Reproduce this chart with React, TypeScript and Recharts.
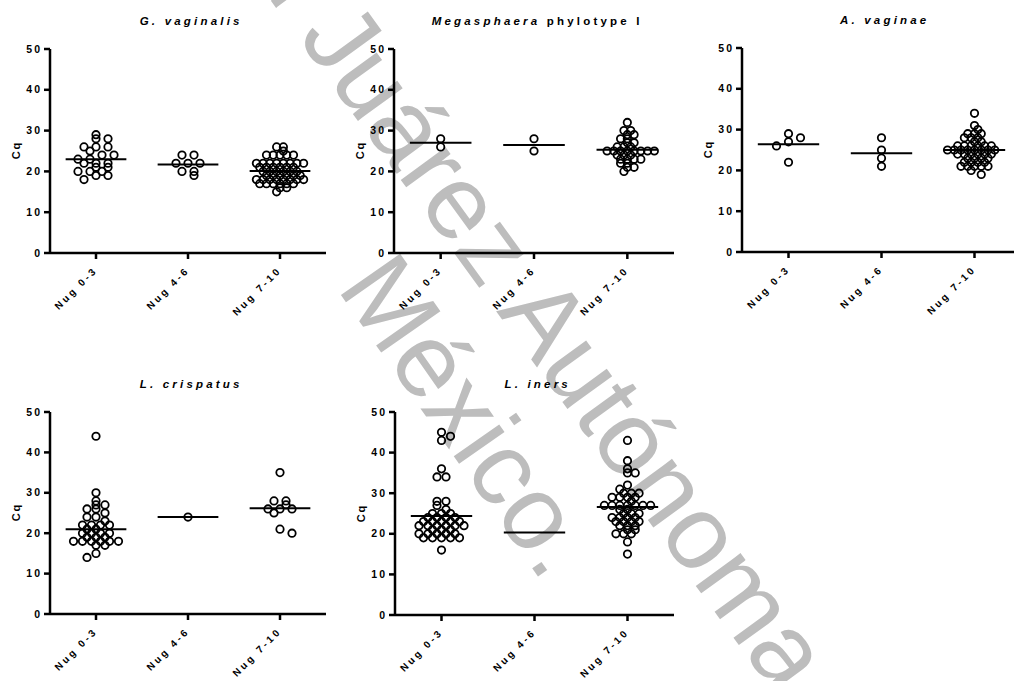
import React from "react";
import { ScatterChart, Scatter, XAxis, YAxis, ReferenceLine } from "recharts";

const FONT = '"Liberation Sans", Arial, Helvetica, sans-serif';

const CATEGORIES = ["Nug 0-3", "Nug 4-6", "Nug 7-10"];
const Y_TICKS = [0, 10, 20, 30, 40, 50];

// G. vaginalis
const GV_NUG_0_3 = [29, 28, 28, 26, 26, 26, 25, 24, 24, 23, 23, 22, 22, 22, 21, 21, 20, 20, 20, 19, 19, 18];
const GV_NUG_4_6 = [24, 24, 22, 22, 22, 20, 20, 19];
const GV_NUG_7_10 = [
  26, 26, 25, 24, 24, 24, 24, 24, 22, 22, 22, 22, 22, 22, 22, 22, 21, 21, 21, 21, 21, 21,
  20, 20, 20, 20, 20, 20, 19, 19, 19, 19, 19, 19, 18, 18, 18, 18, 18, 18, 18, 18,
  17, 17, 17, 17, 17, 17, 16, 16, 15,
];
const GV_MEDIANS = [23, 21.7, 20.1];

// Megasphaera phylotype I
const MP_NUG_0_3 = [28, 26];
const MP_NUG_4_6 = [28, 25];
const MP_NUG_7_10 = [
  32, 30, 30, 29, 29, 28, 28, 27, 27, 26, 26, 26, 25, 25, 25, 25, 25, 25, 25, 25,
  24, 24, 24, 23, 23, 23, 23, 22, 22, 21, 21, 20,
];
const MP_MEDIANS = [27, 26.5, 25.3];

// A. vaginae
const AV_NUG_0_3 = [29, 28, 27, 26, 22];
const AV_NUG_4_6 = [28, 25, 23, 21];
const AV_NUG_7_10 = [
  34, 31, 30, 29, 29, 29, 28, 28, 28, 27, 27, 26, 26, 26, 26, 26, 26,
  25, 25, 25, 25, 25, 25, 25, 25, 24, 24, 24, 24, 24, 24, 23, 23, 23, 23,
  22, 22, 22, 22, 21, 21, 21, 21, 21, 20, 19,
];
const AV_MEDIANS = [26.4, 24.2, 25];

// L. crispatus
const LC_NUG_0_3 = [
  44, 30, 28, 27, 27, 26, 26, 25, 24, 24, 23, 22, 22, 22, 22, 21, 21,
  20, 20, 20, 20, 19, 19, 19, 18, 18, 18, 18, 18, 18, 17, 17, 15, 14,
];
const LC_NUG_4_6 = [24];
const LC_NUG_7_10 = [35, 28, 28, 27, 26, 26, 26, 25, 21, 20];
const LC_MEDIANS = [21, 24, 26.2];

// L. iners
const LI_NUG_0_3 = [
  45, 44, 43, 36, 34, 34, 28, 28, 27, 26, 25, 25, 25, 24, 24, 24, 24,
  23, 23, 23, 23, 23, 22, 22, 22, 22, 22, 22, 21, 21, 21,
  20, 20, 20, 20, 20, 19, 19, 19, 19, 19, 16,
];
const LI_NUG_4_6: number[] = [];
const LI_NUG_7_10 = [
  43, 38, 36, 35, 35, 32, 31, 30, 30, 30, 29, 29, 29, 29, 28,
  27, 27, 27, 27, 27, 27, 27, 26, 26, 25, 25, 25, 24, 24, 24, 24,
  23, 23, 23, 23, 22, 22, 22, 21, 21, 20, 20, 20, 18, 15,
];
const LI_MEDIANS = [24.4, 20.3, 26.6];

// Prism-style scatter: equal values sit side by side in a centred row,
// a row is nudged sideways when it would sit right under the row above
function swarm(values: number[], pxPerCat: number, maxWidth = 54) {
  const rows = new Map<number, number[]>();
  values.forEach((v, i) => rows.set(v, [...(rows.get(v) || []), i]));
  const maxRow = Math.max(1, ...Array.from(rows.values()).map((r) => r.length));
  const s = Math.min(12, maxWidth / maxRow);
  const keys = Array.from(rows.keys()).sort((a, b) => b - a);
  const rowPos = new Map<number, number[]>();
  const out: number[] = new Array(values.length).fill(0);
  let flip = 1;
  for (const v of keys) {
    const idx = rows.get(v)!;
    const n = idx.length;
    const base = idx.map((_, k) => (k - (n - 1) / 2) * s);
    const above = rowPos.get(v + 1) || [];
    const minGap = n > 2 ? 0.45 * s : 7;
    const ok = (sh: number) => above.every((px) => base.every((bx) => Math.abs(bx + sh - px) >= minGap));
    const tries = [0, (flip * s) / 2, (-flip * s) / 2, flip * s, -flip * s];
    const shift = tries.find(ok) ?? (flip * s) / 2;
    if (shift !== 0) flip = -Math.sign(shift);
    const xs = base.map((b) => b + shift);
    rowPos.set(v, xs);
    idx.forEach((i, k) => (out[i] = xs[k] / pxPerCat));
  }
  return out;
}

const renderDot = (props: any) => (
  <circle cx={props.cx} cy={props.cy} r={3.7} fill="none" stroke="#000" strokeWidth={1.8} />
);

const NugTick = (props: any) => {
  const { x, y, payload } = props;
  return (
    <text
      transform={`translate(${x + 2},${y + 10}) rotate(-45)`}
      textAnchor="end"
      fontSize={10}
      fontWeight={700}
      letterSpacing={2.7}
      fontFamily={FONT}
      fill="#000"
    >
      {CATEGORIES[payload.value]}
    </text>
  );
};

const CqTick = (props: any) => {
  const { x, y, payload } = props;
  return (
    <text x={x} y={y} dy={3.6} textAnchor="end" fontSize={10.5} fontWeight={700} letterSpacing={2} fontFamily={FONT} fill="#000">
      {payload.value}
    </text>
  );
};

type PanelProps = {
  title: React.ReactNode;
  groups: number[][];
  medians: number[];
  left: number;
  right: number;
  top: number;
  bottom: number;
};

function Panel({ title, groups, medians, left, right, top, bottom }: PanelProps) {
  const axisW = 44;
  const mTop = 10;
  const mRight = 4;
  const xH = 80;
  const plotW = right - left;
  const plotH = bottom - top;

  const points = groups.flatMap((vals, gi) => {
    const off = swarm(vals, plotW / 3);
    return vals.map((v, k) => ({ x: gi + off[k], y: v }));
  });

  return (
    <>
      <div
        style={{
          position: "absolute",
          left,
          width: plotW,
          top: top - 35,
          textAlign: "center",
          fontFamily: FONT,
          fontSize: 11.5,
          lineHeight: "14px",
          fontWeight: 700,
          letterSpacing: 3.2,
          paddingLeft: 3.2,
          color: "#000",
          whiteSpace: "nowrap",
        }}
      >
        {title}
      </div>
      <div
        style={{
          position: "absolute",
          left: left - 34,
          top: (top + bottom) / 2,
          transform: "translate(-50%, -50%) rotate(-90deg)",
          fontFamily: FONT,
          fontSize: 11,
          fontWeight: 700,
          letterSpacing: 2,
          paddingLeft: 2,
          lineHeight: "13px",
          color: "#000",
        }}
      >
        Cq
      </div>
      <div style={{ position: "absolute", left: left - axisW, top: top - mTop }}>
        <ScatterChart
          width={plotW + axisW + mRight}
          height={plotH + mTop + xH}
          margin={{ top: mTop, right: mRight, bottom: 0, left: 0 }}
        >
          <XAxis
            type="number"
            dataKey="x"
            domain={[-0.5, 2.5]}
            ticks={[0, 1, 2]}
            interval={0}
            height={xH}
            allowDataOverflow
            axisLine={{ stroke: "#000", strokeWidth: 2.5 }}
            tickLine={{ stroke: "#000", strokeWidth: 2.5 }}
            tickSize={6}
            tick={<NugTick />}
          />
          <YAxis
            type="number"
            dataKey="y"
            domain={[0, 50]}
            ticks={Y_TICKS}
            interval={0}
            width={axisW}
            allowDataOverflow
            axisLine={{ stroke: "#000", strokeWidth: 2.5 }}
            tickLine={{ stroke: "#000", strokeWidth: 2.5 }}
            tickSize={6}
            tick={<CqTick />}
          />
          {medians.map((m, i) => (
            <ReferenceLine
              key={i}
              segment={[
                { x: i - 0.33, y: m },
                { x: i + 0.33, y: m },
              ]}
              stroke="#000"
              strokeWidth={2}
            />
          ))}
          <Scatter data={points} shape={renderDot} isAnimationActive={false} />
        </ScatterChart>
      </div>
    </>
  );
}

const WATERMARK = "#bdbdbd";

export default function App() {
  return (
    <div
      style={{
        position: "absolute",
        left: 0,
        top: 0,
        width: 1014,
        height: 681,
        overflow: "hidden",
        background: "#fff",
      }}
    >
      <svg width={1014} height={681} style={{ position: "absolute", left: 0, top: 0 }}>
        <g fontFamily={FONT} fontSize={105} fill={WATERMARK}>
          <text transform="translate(280,13.5) rotate(54)" textAnchor="end">
            Universidad
          </text>
          <text transform="translate(297,37) rotate(54)">Juárez Autónoma</text>
          <text transform="translate(336,288) rotate(55)">México.</text>
        </g>
      </svg>

      <Panel
        title={<i>G. vaginalis</i>}
        groups={[GV_NUG_0_3, GV_NUG_4_6, GV_NUG_7_10]}
        medians={GV_MEDIANS}
        left={50}
        right={326}
        top={49}
        bottom={253}
      />
      <Panel
        title={
          <>
            <i>Megasphaera</i> phylotype I
          </>
        }
        groups={[MP_NUG_0_3, MP_NUG_4_6, MP_NUG_7_10]}
        medians={MP_MEDIANS}
        left={394}
        right={674}
        top={49}
        bottom={253}
      />
      <Panel
        title={<i>A. vaginae</i>}
        groups={[AV_NUG_0_3, AV_NUG_4_6, AV_NUG_7_10]}
        medians={AV_MEDIANS}
        left={742}
        right={1021}
        top={48}
        bottom={252}
      />
      <Panel
        title={<i>L. crispatus</i>}
        groups={[LC_NUG_0_3, LC_NUG_4_6, LC_NUG_7_10]}
        medians={LC_MEDIANS}
        left={50}
        right={326}
        top={412}
        bottom={614}
      />
      <Panel
        title={<i>L. iners</i>}
        groups={[LI_NUG_0_3, LI_NUG_4_6, LI_NUG_7_10]}
        medians={LI_MEDIANS}
        left={395}
        right={674}
        top={412}
        bottom={615}
      />
    </div>
  );
}
